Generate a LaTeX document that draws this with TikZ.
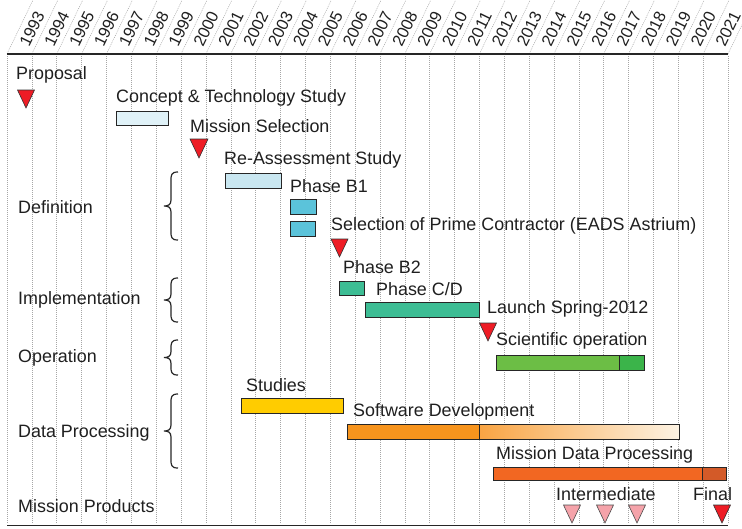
\documentclass[tikz,border=0pt]{standalone}
\usepackage{fontspec}
\setmainfont{Liberation Sans}
\definecolor{tri}{HTML}{EE1C25}
\definecolor{pinktri}{HTML}{F5A3AA}
\definecolor{lblue}{HTML}{E0F2F8}
\definecolor{lblueb}{HTML}{C9E7F1}
\definecolor{cyanb}{HTML}{5BC3DA}
\definecolor{teal}{HTML}{3DBD94}
\definecolor{greena}{HTML}{6CBE45}
\definecolor{greenb}{HTML}{3BB44A}
\definecolor{gold}{HTML}{FFCC00}
\definecolor{orangea}{HTML}{F7941D}
\definecolor{orangeb}{HTML}{F9A443}
\definecolor{cream}{HTML}{FDF3E3}
\definecolor{reda}{HTML}{F26722}
\definecolor{redb}{HTML}{D35A28}
\tikzset{
  lbl/.style={anchor=west,inner sep=0pt,font=\fontsize{17.9}{20}\selectfont,text=black!88},
  yearlbl/.style={inner sep=0pt,font=\fontsize{16.5}{18}\selectfont,text=black!88},
  bar/.style={draw=black!85,line width=0.9pt},
  gridl/.style={draw=gray!70,line width=0.5pt,dash pattern=on 1pt off 1pt},
  bracel/.style={draw=black!85,line width=1.2pt},
  trimark/.style={draw=black!80,line width=0.6pt,fill=tri},
  pinkmark/.style={draw=black!70,line width=0.6pt,fill=pinktri}
}
\newcommand\mtri[4]{\draw[#4] ({#1-#3/2},#2) -- ({#1+#3/2},#2) -- (#1,{#2+#3+1}) -- cycle;}
\newcommand\mbrace[2]{%
  \pgfmathsetmacro\bmid{(#1+#2)/2}%
  \draw[bracel] (178,#1) .. controls (171,#1) and (171,{#1+3}) .. (171,{#1+9})
    -- (171,{\bmid-6}) .. controls (171,{\bmid-1}) and (168,\bmid) .. (164,\bmid)
    .. controls (168,\bmid) and (171,{\bmid+1}) .. (171,{\bmid+6})
    -- (171,{#2-9}) .. controls (171,{#2-3}) and (171,#2) .. (178,#2);}
\begin{document}
\begin{tikzpicture}[x=1pt,y=-1pt]
\useasboundingbox (0,0) rectangle (742,528);
% grid and header
\foreach \k in {0,...,29}{
  \pgfmathsetmacro\xk{7+24.862*\k}
  \draw[gridl] (\xk,56) -- (\xk,524);
  \draw[gridl] (\xk,54) -- ({\xk+26},0);
}
\foreach \k in {0,...,28}{
  \pgfmathsetmacro\xk{7+24.862*\k}
  \pgfmathtruncatemacro\yr{1993+\k}
  \node[yearlbl,rotate=64] (yr\k) at ({\xk+25},29) {\yr};
}
\draw[black!85,line width=1.5pt] (7,54) -- (728,54);
\draw[black!85,line width=1.5pt] (7,525.5) -- (728,525.5);
% left labels
\node[lbl] (proposal) at (16,75) {Proposal};
\node[lbl] (definition) at (18,207) {Definition};
\node[lbl] (implementation) at (18,300) {Implementation};
\node[lbl] (operation) at (18,358) {Operation};
\node[lbl] (dataproc) at (18,433) {Data Processing};
\node[lbl] (products) at (18,506) {Mission Products};
% braces
\mbrace{172}{240}
\mbrace{278}{322}
\mbrace{340}{375}
\mbrace{394}{468}
% Proposal
\mtri{26}{90}{17}{trimark}
% Concept
\node[lbl] (concept) at (116,98) {Concept \& Technology Study};
\draw[bar,fill=lblue] (116,111) rectangle (168,125);
% Mission selection
\node[lbl] (missionsel) at (190,126) {Mission Selection};
\mtri{199}{139}{18}{trimark}
% Re-assessment
\node[lbl] (reassess) at (224,160) {Re-Assessment Study};
\draw[bar,fill=lblueb] (225,173) rectangle (281,188);
% Phase B1
\node[lbl] (phaseb1) at (290,186) {Phase B1};
\draw[bar,fill=cyanb] (290,199) rectangle (316,214);
\draw[bar,fill=cyanb] (290,221) rectangle (315,236);
% Prime contractor
\node[lbl] (prime) at (331,226) {Selection of Prime Contractor (EADS Astrium)};
\mtri{339.5}{239}{17}{trimark}
% Phase B2
\node[lbl] (phaseb2) at (343,267) {Phase B2};
\draw[bar,fill=teal] (339,281) rectangle (364,295);
% Phase C/D
\node[lbl] (phasecd) at (376,289) {Phase C/D};
\draw[bar,fill=teal] (365,302) rectangle (479,317);
% Launch
\node[lbl] (launch) at (487,309) {Launch Spring-2012};
\mtri{488}{323}{17}{trimark}
% Scientific operation
\node[lbl] (sciop) at (496,341) {Scientific operation};
\draw[bar,fill=greena] (496,355) rectangle (619,370);
\draw[bar,fill=greenb] (619,355) rectangle (644,370);
% Studies
\node[lbl] (studies) at (246,385) {Studies};
\draw[bar,fill=gold] (241,398) rectangle (343,413);
% Software development
\node[lbl] (software) at (353,412) {Software Development};
\draw[bar,fill=orangea] (347,424) rectangle (479,439);
\shade[left color=orangeb,right color=cream] (479,424) rectangle (679,439);
\draw[bar] (479,424) rectangle (679,439);
% Mission data processing
\node[lbl] (mdp) at (496,455) {Mission Data Processing};
\draw[bar,fill=reda] (493,467) rectangle (702,480);
\draw[bar,fill=redb] (702,467) rectangle (726,480);
% Mission products
\node[lbl] (intermediate) at (556,494) {Intermediate};
\node[lbl] (final) at (693,494) {Final};
\mtri{572}{505}{17}{pinkmark}
\mtri{605}{505}{17}{pinkmark}
\mtri{637}{505}{17}{pinkmark}
\mtri{722}{505}{17}{trimark}
\end{tikzpicture}
\end{document}
